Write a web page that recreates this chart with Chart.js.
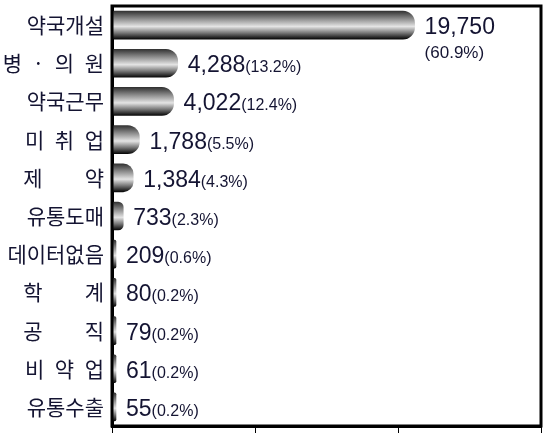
<!DOCTYPE html>
<html>
<head>
<meta charset="utf-8">
<script src="https://cdn.jsdelivr.net/npm/chart.js@4/dist/chart.umd.min.js"></script>
<style>
  html, body { margin: 0; padding: 0; background: #fff; }
  #wrap { width: 547px; height: 440px; }
</style>
</head>
<body>
<div id="wrap"><canvas id="careerChart"></canvas></div>
<script>
// 진로 현황 (명)
const categories = ['약국개설', '병\u2002·\u2002의\u2002원', '약국근무', '미\u2002취\u2002업', '제\u3000\u3000약',
  '유통도매', '데이터없음', '학\u3000\u3000계', '공\u3000\u3000직', '비\u2002약\u2002업', '유통수출'];
const counts = [19750, 4288, 4022, 1788, 1384, 733, 209, 80, 79, 61, 55];
const percents = ['60.9%', '13.2%', '12.4%', '5.5%', '4.3%', '2.3%', '0.6%', '0.2%', '0.2%', '0.2%', '0.2%'];
const axisMax = 28000;

const BAR_H = 28;
const textColor = '#141432';

function cylinder(c) {
  const chart = c.chart;
  const y = chart.scales && chart.scales.y;
  if (!chart.chartArea || !y || c.dataIndex === undefined) return '#888';
  const yc = y.getPixelForValue(c.dataIndex);
  const g = chart.ctx.createLinearGradient(0, yc - BAR_H / 2, 0, yc + BAR_H / 2);
  g.addColorStop(0, '#333');
  g.addColorStop(0.25, '#858585');
  g.addColorStop(0.55, '#e4e4e4');
  g.addColorStop(0.78, '#777');
  g.addColorStop(1, '#080808');
  return g;
}

// 막대 끝에 값 + 비율
const valueLabels = {
  id: 'valueLabels',
  afterDatasetsDraw(chart) {
    const ctx = chart.ctx;
    const meta = chart.getDatasetMeta(0);
    ctx.save();
    ctx.fillStyle = textColor;
    ctx.textBaseline = 'alphabetic';
    ctx.textAlign = 'left';
    meta.data.forEach((bar, i) => {
      const num = counts[i].toLocaleString('en-US');
      const x = bar.x + 10;
      const base = bar.y + 9;
      ctx.font = '23px "Liberation Sans", Arial, sans-serif';
      ctx.fillText(num, x, base);
      if (i === 0) {
        ctx.font = '17px "Liberation Sans", Arial, sans-serif';
        ctx.fillText('(' + percents[i] + ')', x, base + 24);
      } else {
        const w = ctx.measureText(num).width;
        ctx.font = '16px "Liberation Sans", Arial, sans-serif';
        ctx.fillText('(' + percents[i] + ')', x + w, base);
      }
    });
    ctx.restore();
  }
};

// 그래프 영역 테두리
const frame = {
  id: 'frame',
  afterDraw(chart) {
    const a = chart.chartArea;
    const ctx = chart.ctx;
    ctx.save();
    ctx.strokeStyle = '#000';
    ctx.lineWidth = 3;
    ctx.strokeRect(a.left, a.top, a.right - a.left, a.bottom - a.top);
    ctx.restore();
  }
};

new Chart(document.getElementById('careerChart'), {
  type: 'bar',
  data: {
    labels: categories,
    datasets: [{
      data: counts,
      backgroundColor: cylinder,
      borderWidth: 0,
      borderRadius: 12,
      borderSkipped: 'start',
      barThickness: BAR_H,
      minBarLength: 4
    }]
  },
  options: {
    indexAxis: 'y',
    responsive: true,
    maintainAspectRatio: false,
    animation: false,
    layout: { padding: { top: 6, right: 6, left: 0, bottom: 0 } },
    plugins: {
      legend: { display: false },
      tooltip: { enabled: false }
    },
    scales: {
      x: {
        min: 0,
        max: axisMax,
        ticks: { display: false, count: 4 },
        grid: { drawOnChartArea: false, drawTicks: true, tickLength: 7, color: '#000', lineWidth: 1 },
        border: { display: true, color: '#000', width: 3 },
        afterFit(s) { s.height = 14; }
      },
      y: {
        grid: { display: false },
        border: { display: true, color: '#000', width: 3 },
        ticks: {
          color: textColor,
          padding: 0,
          font: { family: '"Noto Sans CJK KR", sans-serif', size: 21 }
        },
        afterFit(s) {
          s.width = 112;
          s.paddingTop = 0;
          s.paddingBottom = 0;
        }
      }
    }
  },
  plugins: [valueLabels, frame]
});
</script>
</body>
</html>
